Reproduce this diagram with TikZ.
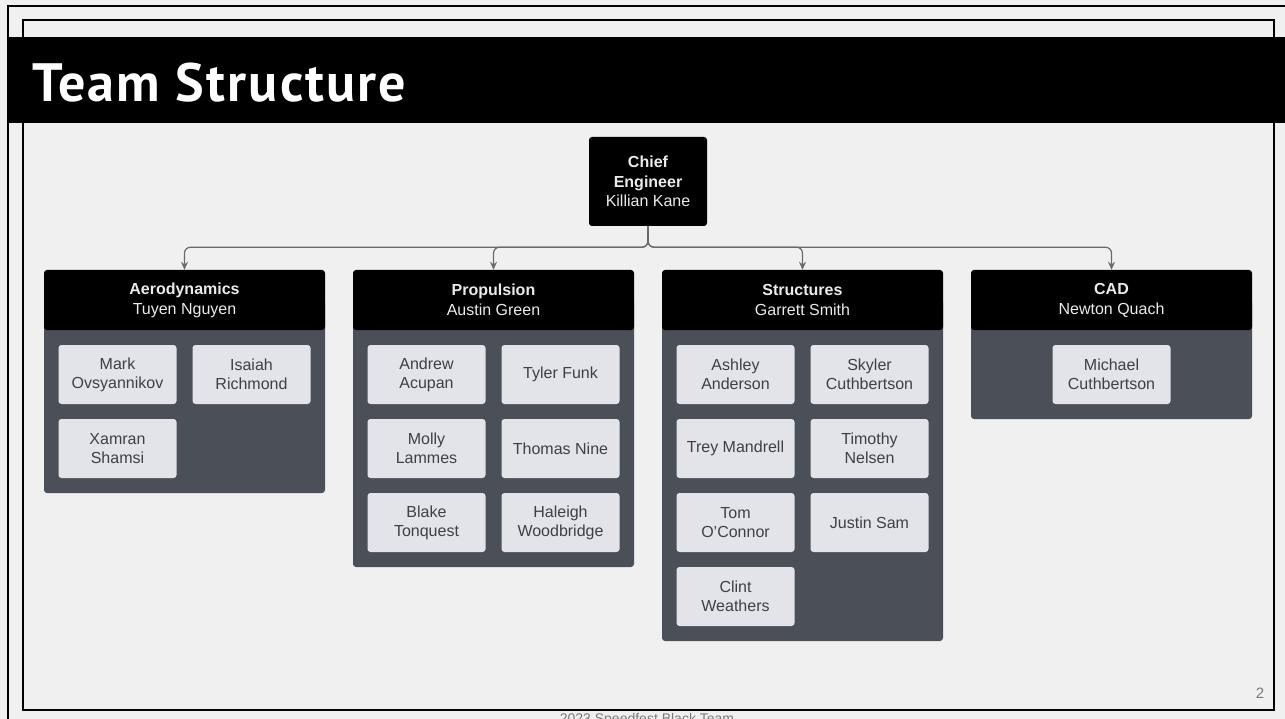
\documentclass[tikz,border=0pt]{standalone}
\usepackage{fontspec}
\setmainfont{Liberation Sans}
\newfontfamily\titlefont{PT Sans}[LetterSpace=4]
\usetikzlibrary{arrows.meta}
\definecolor{paper}{HTML}{F0F0F0}
\definecolor{bodygray}{HTML}{4B4F57}
\definecolor{cardgray}{HTML}{E2E4EA}
\definecolor{cardtext}{HTML}{3C4047}
\definecolor{linegray}{HTML}{6A6A6A}
\definecolor{footgray}{HTML}{7A7A7A}
\tikzstyle{leadbox}=[rectangle,rounded corners=3pt,fill=black,text=white!92!black,align=center,inner sep=0pt,font=\fontsize{16}{20}\selectfont]
\tikzstyle{chiefbox} = [leadbox, minimum width=118pt, minimum height=89pt, font=\fontsize{16}{19.5}\selectfont]
\tikzstyle{headbox} = [leadbox, minimum width=281pt, minimum height=60pt]
\tikzstyle{memberbox} = [rectangle,rounded corners=3pt,fill=cardgray,text=cardtext,align=center,minimum width=118pt,minimum height=59pt,inner sep=0pt,font=\fontsize{16}{19}\selectfont]
\tikzstyle{link} = [draw=linegray,line width=1.2pt,rounded corners=6pt,-{Stealth[length=8pt,width=7pt]}]
\tikzstyle{small} = [inner sep=0pt,text=footgray]

\begin{document}
\begin{tikzpicture}[x=1pt,y=-1pt]
  \useasboundingbox (0,0) rectangle (1285,719);
  \clip (0,0) rectangle (1285,719);
    % Slide background, frame and title bar
    \fill[paper] (0,0) rectangle (1285,719);
    \draw[line width=2.3pt] (8,719) -- (8,6) -- (1285,6);
    \draw[line width=1.4pt] (23,20) rectangle (1274,710);
    \fill[black] (8,37) rectangle (1285,123);
    \node[anchor=base west,inner sep=0pt,text=white,font=\titlefont\bfseries\fontsize{54}{54}\selectfont] (title) at (32,102) {Team Structure};
    % The chief engineer on top
    \node[chiefbox] (chief) at (648,181.5) {\textbf{Chief}\\\textbf{Engineer}\\Killian Kane};
    % Then the four teams with their leads, linked to the chief
    \foreach \i/\x/\team/\lead/\bottom in {1/184.5/Aerodynamics/Tuyen Nguyen/493,
                                          2/493.5/Propulsion/Austin Green/567,
                                          3/802.5/Structures/Garrett Smith/641,
                                          4/1111.5/CAD/Newton Quach/419}
    {
        \fill[bodygray,rounded corners=3pt] (\x-140.5,300) rectangle (\x+140.5,\bottom);
        \node[headbox] (head\i) at (\x,300) {\textbf{\team}\\\lead};
        \path[link] (chief.south) -- ++(0,21) -| (head\i.north);
    }
    % Team members, two per row
    \foreach \x/\r/\name [count=\k] in {
      117.5/0/{Mark\\Ovsyannikov},251.5/0/{Isaiah\\Richmond},117.5/1/{Xamran\\Shamsi},
      426.5/0/{Andrew\\Acupan},560.5/0/{Tyler Funk},
      426.5/1/{Molly\\Lammes},560.5/1/{Thomas Nine},
      426.5/2/{Blake\\Tonquest},560.5/2/{Haleigh\\Woodbridge},
      735.5/0/{Ashley\\Anderson},869.5/0/{Skyler\\Cuthbertson},
      735.5/1/{Trey Mandrell},869.5/1/{Timothy\\Nelsen},
      735.5/2/{Tom\\O'Connor},869.5/2/{Justin Sam},
      735.5/3/{Clint\\Weathers},
      1111.5/0/{Michael\\Cuthbertson}}
        \node[memberbox] (member\k) at (\x,374.5+74*\r) {\name};
    % Footer and page number
    \node[small,anchor=base,font=\fontsize{14}{14}\selectfont] (footer) at (647,723) {2023 Speedfest Black Team};
    \node[small,anchor=base,font=\fontsize{15}{15}\selectfont] (page) at (1260,698) {2};
\end{tikzpicture}
\end{document}
